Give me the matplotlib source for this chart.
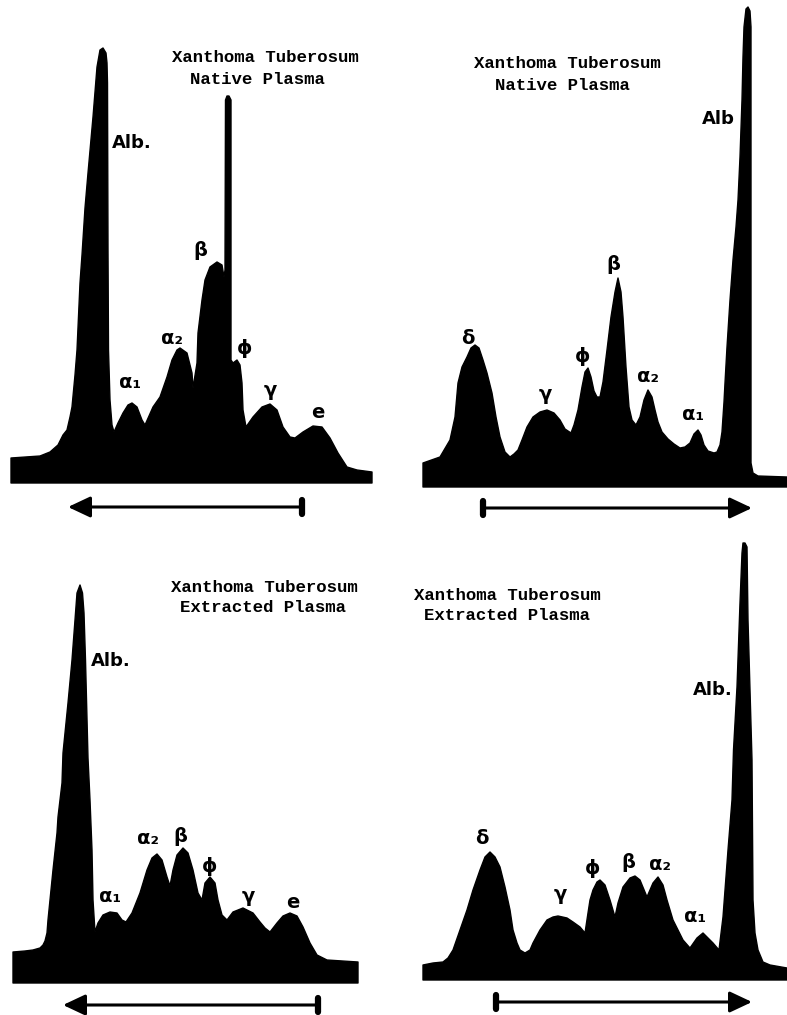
import numpy as np
import matplotlib
matplotlib.use("Agg")
import matplotlib.pyplot as plt

# ---------------- data (migration position, density height) ----------------
# Top-left: native plasma (albumin at left)
tl_x = [11, 40, 50, 58, 63, 67, 70, 72, 75, 77, 80, 82, 85, 88, 93, 97, 100, 103, 106, 107,
        107.5, 108, 108.5, 110, 112, 114, 118, 123, 128, 132, 137, 142, 145, 153, 160, 167, 172, 177, 180, 187,
        192, 193, 197, 198, 202, 205, 210, 217, 222, 224, 225, 225.5, 227, 229, 231, 231, 233, 237, 240, 242,
        243, 246, 253, 262, 270, 277, 283, 290, 295, 303, 313, 322, 330, 338, 347, 357, 372]
tl_h = [25, 27, 31, 38, 48, 53, 66, 76, 108, 133, 200, 228, 275, 310, 366, 416, 433, 435, 430, 420,
        400, 233, 133, 83, 58, 51, 60, 70, 78, 80, 76, 63, 58, 76, 86, 106, 123, 133, 135, 130,
        110, 95, 120, 150, 183, 203, 216, 221, 218, 206, 213, 383, 387, 387, 383, 123, 120, 123, 118, 100,
        73, 56, 66, 76, 79, 73, 56, 46, 45, 51, 57, 56, 45, 30, 16, 13, 11]

# Top-right: native plasma (albumin at right)
tr_x = [423, 440, 450, 455, 458, 462, 467, 471, 475, 479, 483, 487, 492, 496, 500, 505, 510, 514, 518, 522,
        527, 533, 540, 547, 554, 560, 565, 571, 574, 578, 582, 585, 588, 591, 594, 597, 600, 603, 607, 611,
        615, 618, 621, 623, 626, 629, 632, 636, 640, 644, 648, 652, 655, 658, 662, 668, 674, 680, 685, 690,
        694, 698, 701, 704, 708, 714, 717, 720, 722, 724, 725, 727, 730, 733, 736, 738, 740, 742, 743, 744,
        746, 748, 750, 751, 751, 753, 758, 787]
tr_h = [24, 30, 47, 70, 104, 120, 130, 139, 142, 139, 127, 114, 94, 70, 50, 35, 30, 33, 37, 47,
        60, 70, 75, 77, 74, 67, 58, 54, 62, 77, 100, 115, 119, 110, 96, 90, 90, 105, 137, 170,
        195, 209, 195, 170, 120, 80, 67, 62, 70, 87, 97, 90, 77, 65, 55, 48, 43, 39, 40, 44,
        53, 57, 52, 42, 36, 34, 35, 42, 55, 85, 104, 140, 187, 227, 260, 287, 330, 387, 430, 460,
        478, 480, 476, 460, 24, 14, 11, 10]

# Bottom-left: extracted plasma (albumin at left)
bl_x = [13, 25, 33, 40, 43, 45, 47, 48, 50, 53, 57, 58, 62, 63, 68, 72, 75, 77, 80, 82.5,
        84, 85.5, 88, 90, 92, 93, 95, 98, 103, 110, 117, 122, 126, 132, 140, 147, 152, 157, 162, 167,
        170, 173, 177, 183, 188, 193, 198, 202, 205, 210, 215, 218, 222, 227, 233, 243, 253, 260, 265, 270,
        277, 283, 290, 297, 303, 310, 317, 327, 358]
bl_h = [31, 32, 33, 35, 38, 42, 50, 63, 83, 113, 150, 166, 200, 230, 280, 323, 363, 390, 398, 390,
        370, 323, 225, 183, 133, 83, 51, 60, 68, 71, 70, 63, 61, 70, 90, 113, 125, 129, 123, 106,
        97, 113, 128, 135, 130, 113, 90, 83, 100, 106, 100, 83, 68, 63, 71, 75, 70, 61, 55, 51,
        60, 67, 70, 67, 56, 40, 28, 23, 21]

# Bottom-right: extracted plasma (albumin at right)
br_x = [423, 433, 443, 448, 453, 460, 467, 473, 480, 485, 490, 495, 500, 505, 510, 513, 517, 520, 525, 530,
        533, 540, 547, 553, 558, 567, 573, 580, 585, 588, 590, 593, 597, 600, 605, 610, 615, 618, 623, 630,
        635, 640, 647, 653, 658, 663, 667, 673, 678, 683, 690, 697, 703, 708, 713, 719, 723, 728, 732, 733.5,
        737, 740, 742, 743, 745, 747, 748, 750, 752, 753, 755, 758, 763, 770, 787]
br_h = [15, 17, 18, 22, 30, 50, 70, 90, 110, 123, 128, 123, 113, 93, 70, 50, 37, 30, 27, 30,
        37, 50, 60, 63, 64, 62, 58, 53, 47, 67, 80, 90, 98, 100, 95, 80, 63, 77, 93, 102,
        104, 100, 83, 97, 103, 95, 80, 60, 50, 40, 32, 42, 47, 42, 37, 30, 63, 130, 180, 230,
        293, 377, 427, 437, 437, 433, 360, 290, 220, 80, 47, 30, 18, 15, 12]

titles = [("Xanthoma Tuberosum", "Native Plasma"),
          ("Xanthoma Tuberosum", "Native Plasma"),
          ("Xanthoma Tuberosum", "Extracted Plasma"),
          ("Xanthoma Tuberosum", "Extracted Plasma")]

tl_labels = ["Alb.", "β", "α₁", "α₂", "ϕ", "γ", "e"]
tr_labels = ["δ", "γ", "ϕ", "β", "α₂", "α₁", "Alb"]
bl_labels = ["Alb.", "α₁", "α₂", "β", "ϕ", "γ", "e"]
br_labels = ["δ", "γ", "ϕ", "β", "α₂", "α₁", "Alb."]

# ---------------- layout ----------------
W, H = 787, 1015
fig = plt.figure(figsize=(W / 100, H / 100), dpi=100)
fig.patch.set_facecolor("white")

panels = [
    dict(x=tl_x, h=tl_h, box=(0, 393, 0, 520), base=483, labels=tl_labels,
         lpos=[(132, 340), (200, 233), (130, 100), (172, 145), (245, 135), (270, 93), (318, 71)],
         tpos=[(265, 425), (257, 404)], arrow=((302, -24), (68, -24))),
    dict(x=tr_x, h=tr_h, box=(393, 787, 0, 520), base=487, labels=tr_labels,
         lpos=[(468, 149), (545, 92), (583, 130), (613, 222), (648, 110), (693, 72), (718, 368)],
         tpos=[(567, 424), (562, 402)], arrow=((483, -21), (752, -21))),
    dict(x=bl_x, h=bl_h, box=(0, 393, 520, 1015), base=983, labels=bl_labels,
         lpos=[(111, 322), (110, 86), (148, 145), (180, 146), (210, 116), (248, 86), (293, 80)],
         tpos=[(264, 395), (263, 375)], arrow=((318, -22), (63, -22))),
    dict(x=br_x, h=br_h, box=(393, 787, 520, 1015), base=980, labels=br_labels,
         lpos=[(482, 142), (560, 85), (593, 112), (628, 117), (660, 115), (695, 63), (713, 290)],
         tpos=[(507, 385), (507, 365)], arrow=((496, -22), (752, -22))),
]

for i, p in enumerate(panels):
    x0, x1, yt, yb = p["box"]
    ax = fig.add_axes([x0 / W, 1 - yb / H, (x1 - x0) / W, (yb - yt) / H])
    ax.set_xlim(x0, x1)
    ax.set_ylim(p["base"] - yb, p["base"] - yt)
    ax.axis("off")

    xs = np.asarray(p["x"], dtype=float)
    hs = np.asarray(p["h"], dtype=float)
    assert len(xs) == len(hs)
    ax.fill(np.r_[xs[0], xs, xs[-1]], np.r_[0, hs, 0], color="black",
            lw=1.0, joinstyle="round")

    for (lx, ly), lab in zip(p["lpos"], p["labels"]):
        fs = 13 if lab.startswith("Alb") else 14
        ax.text(lx, ly, lab, ha="center", va="center", fontsize=fs,
                fontweight="bold", family="DejaVu Sans", color="black")

    for (tx, ty), t in zip(p["tpos"], titles[i]):
        ax.text(tx, ty, t, ha="center", va="center", fontsize=12.5,
                fontweight="bold", family="Liberation Mono", color="black")

    (sx, sy), (ex, ey) = p["arrow"]
    ax.annotate("", xy=(ex, ey), xytext=(sx, sy),
                arrowprops=dict(arrowstyle="-|>,head_length=0.85,head_width=0.4",
                                lw=2.2, color="black", shrinkA=0, shrinkB=0,
                                mutation_scale=16))
    ax.plot([sx, sx], [sy - 7, sy + 7], color="black", lw=4.5,
            solid_capstyle="round")

fig.savefig("out.png", dpi=100, facecolor="white")
